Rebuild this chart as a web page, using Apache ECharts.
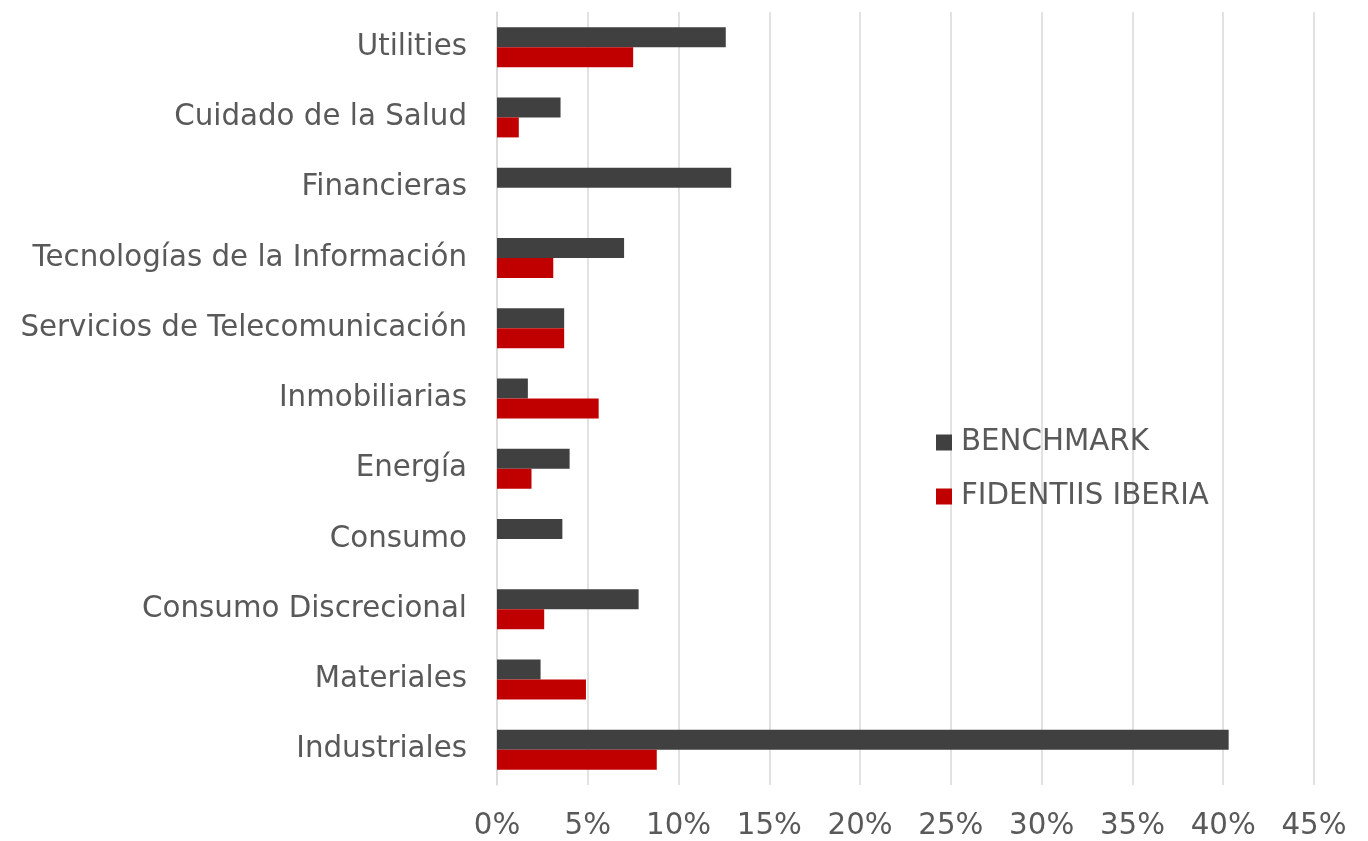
<!DOCTYPE html>
<html>
<head>
<meta charset="utf-8">
<script src="https://cdn.jsdelivr.net/npm/echarts@6/dist/echarts.min.js"></script>
<style>
    html, body { margin: 0; padding: 0; background: #fff; }
    #chart { width: 1368px; height: 841px; }
</style>
</head>
<body>
<div id="chart"></div>
<script>
    // categories listed bottom -> top (category axis starts at bottom)
    var sectores = ['Industriales', 'Materiales', 'Consumo Discrecional', 'Consumo', 'Energía',
        'Inmobiliarias', 'Servicios de Telecomunicación', 'Tecnologías de la Información',
        'Financieras', 'Cuidado de la Salud', 'Utilities'];
    var benchmark = [40.3, 2.4, 7.8, 3.6, 4.0, 1.7, 3.7, 7.0, 12.9, 3.5, 12.6];
    var fidentiis = [8.8, 4.9, 2.6, 0, 1.9, 5.6, 3.7, 3.1, 0, 1.2, 7.5];
    var seriesNames = ['BENCHMARK', 'FIDENTIIS IBERIA'];

    var fontFam = 'Verdana, "DejaVu Sans", sans-serif';
    var fontSz = 29.3;
    var txtColor = '#595959';

    var myChart = echarts.init(document.getElementById('chart'));
    var option = {
        animation: false,
        grid: {
            left: 497,
            right: 54,
            top: 12,
            bottom: 54
        },
        legend: {
            orient: 'vertical',
            left: 936,
            top: 428,
            padding: 0,
            itemWidth: 16,
            itemHeight: 16,
            itemGap: 25,
            icon: 'rect',
            data: seriesNames,
            textStyle: {
                fontFamily: fontFam,
                fontSize: fontSz,
                color: txtColor,
                padding: [0, 0, 0, 4]
            }
        },
        xAxis: {
            type: 'value',
            min: 0,
            max: 45,
            interval: 5,
            axisLine: { show: false },
            axisTick: { show: false },
            axisLabel: {
                formatter: '{value}%',
                margin: 27,
                fontFamily: fontFam,
                fontSize: fontSz,
                color: txtColor
            },
            splitLine: {
                lineStyle: { color: '#d9d9d9', width: 1.5 }
            }
        },
        yAxis: {
            type: 'category',
            data: sectores,
            axisLine: { lineStyle: { color: '#d9d9d9', width: 1.5 } },
            axisTick: { show: false },
            axisLabel: {
                margin: 30,
                fontFamily: fontFam,
                fontSize: fontSz,
                color: txtColor
            }
        },
        series: [{
            name: seriesNames[0],
            type: 'bar',
            data: benchmark,
            barWidth: 20,
            barGap: '0%',
            itemStyle: { color: '#404040' }
        }, {
            name: seriesNames[1],
            type: 'bar',
            data: fidentiis,
            barWidth: 20,
            barGap: '0%',
            itemStyle: { color: '#c00000' }
        }]
    };
    myChart.setOption(option);
</script>
</body>
</html>
